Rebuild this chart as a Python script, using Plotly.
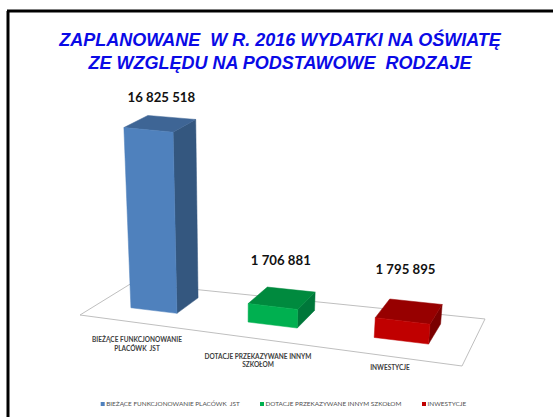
import numpy as np
import plotly.graph_objects as go

# ---------- data ----------
categories = ["BIEŻĄCE FUNKCJONOWANIE<br>PLACÓWK\u00a0 JST", "DOTACJE PRZEKAZYWANE INNYM<br>SZKOŁOM", "INWESTYCJE"]
legend_names = ["BIEŻĄCE FUNKCJONOWANIE PLACÓWK\u00a0 JST", "DOTACJE PRZEKAZYWANE INNYM SZKOŁOM", "INWESTYCJE"]
values = [16825518, 1706881, 1795895]
value_labels = ["16 825 518", "1 706 881", "1 795 895"]
title_text = "<b><i>ZAPLANOWANE\u00a0 W R. 2016 WYDATKI NA OŚWIATĘ<br>ZE WZGLĘDU NA PODSTAWOWE\u00a0 RODZAJE</i></b>"

# ---------- styles / layout ----------
front_colors = ["#4F81BD", "#00B050", "#C00000"]
top_colors = ["#3E6595", "#008A3E", "#970000"]
side_colors = ["#34577F", "#00773A", "#7A0000"]
bar_centers = [0.186, 0.535, 0.851]
bar_half_widths = [0.074, 0.066, 0.061]
depth_range = (0.33, 0.78)
label_gap = [19, 28, 31]
cat_label_xy = [(137, 345), (258, 361.5), (390, 368.5)]
legend_marker_x = [102.7, 262, 424]
legend_y = 404

# 3-D projection: floor homography (u, v in 0..1), plus vertical scale & convergence
H = np.array([[269.3, 64.9, 80.0], [-38.3, -4.3, 315.0], [-0.244, 0.098, 1.0]])
PIXELS_PER_UNIT = 10.7e-6
VANISH_X, VANISH_D = 232.0, 2586.0


def project(u, v, value=0.0):
    x, y, w = H @ np.array([u, v, 1.0])
    x, y = x / w, y / w
    h = value * PIXELS_PER_UNIT * (1 + (y - 307) * 0.001)
    return x + h * (x - VANISH_X) / VANISH_D, y - h


def face(corners):
    pts = [project(*c) for c in corners]
    pts.append(pts[0])
    return [p[0] for p in pts], [p[1] for p in pts]


fig = go.Figure()

# floor
fx, fy = face([(0, 0), (1, 0), (1, 1), (0, 1)])
fig.add_trace(go.Scatter(x=fx, y=fy, mode="lines", line=dict(color="#BFBFBF", width=1),
                         showlegend=False, hoverinfo="skip"))

# bars
for i, val in enumerate(values):
    u0, u1 = bar_centers[i] - bar_half_widths[i], bar_centers[i] + bar_half_widths[i]
    v0, v1 = depth_range
    faces = [
        (side_colors[i], [(u1, v0, 0), (u1, v1, 0), (u1, v1, val), (u1, v0, val)]),
        (top_colors[i], [(u0, v0, val), (u1, v0, val), (u1, v1, val), (u0, v1, val)]),
        (front_colors[i], [(u0, v0, 0), (u1, v0, 0), (u1, v0, val), (u0, v0, val)]),
    ]
    for col, corners in faces:
        xs, ys = face(corners)
        fig.add_trace(go.Scatter(x=xs, y=ys, mode="lines", fill="toself", fillcolor=col,
                                 line=dict(color=col, width=0.5), showlegend=False,
                                 hoverinfo="skip"))

# value labels
lx, ly = [], []
for i, val in enumerate(values):
    px, py = project(bar_centers[i], depth_range[1], val)
    lx.append(px - 10)
    ly.append(py - label_gap[i])
fig.add_trace(go.Scatter(x=lx, y=ly, mode="text", text=value_labels, textposition="middle center",
                         textfont=dict(family="Lato", size=13.2, color="#111111", weight="bold"),
                         showlegend=False, hoverinfo="skip"))

# category labels
fig.add_trace(go.Scatter(x=[p[0] for p in cat_label_xy], y=[p[1] for p in cat_label_xy], mode="text",
                         text=categories, textposition="middle center",
                         textfont=dict(family="Lato", size=6.5, color="#404040", weight="bold"),
                         showlegend=False, hoverinfo="skip"))

# legend row (swatch sits right next to its text, as in the reference)
fig.add_trace(go.Scatter(x=legend_marker_x, y=[legend_y] * len(legend_names), mode="markers+text",
                         text=legend_names, textposition="middle right",
                         marker=dict(symbol="square", size=4, color=front_colors),
                         textfont=dict(family="Lato", size=6.4, color="#505050"),
                         showlegend=False, hoverinfo="skip"))

fig.update_layout(
    width=553, height=417, margin=dict(l=0, r=0, t=0, b=0),
    paper_bgcolor="white", plot_bgcolor="white", showlegend=False,
    title=dict(text=title_text, x=280 / 553, xanchor="center", y=1 - 45.5 / 417, yanchor="middle",
               font=dict(family="Liberation Sans", size=18, color="#0A0AE6")),
    xaxis=dict(visible=False, range=[0, 553], domain=[0, 1], fixedrange=True),
    yaxis=dict(visible=False, range=[417, 0], domain=[0, 1], fixedrange=True),
    # picture frame
    shapes=[dict(type="line", xref="x", yref="y", x0=8, x1=8, y0=11, y1=417, line=dict(color="black", width=3)),
            dict(type="line", xref="x", yref="y", x0=7, x1=553, y0=11, y1=11, line=dict(color="black", width=3))],
)

fig.write_html("out.html", config=dict(displayModeBar=False),
               post_script="document.body.style.margin='0';")
